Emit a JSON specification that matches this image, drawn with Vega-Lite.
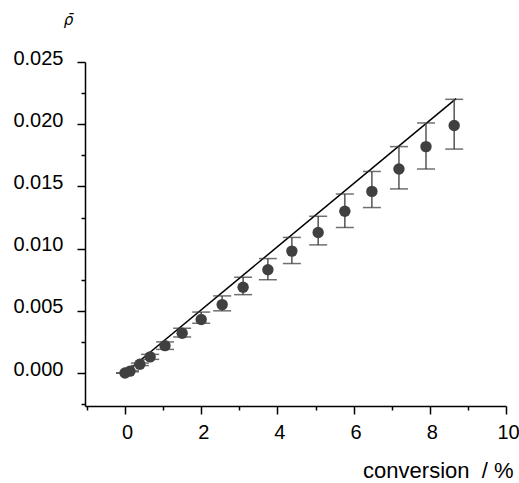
{
  "$schema": "https://vega.github.io/schema/vega-lite/v6.json",
  "width": 421,
  "height": 344,
  "autosize": {"type": "none"},
  "padding": {"left": 85, "top": 62, "right": 13, "bottom": 77},
  "background": "white",
  "config": {
    "view": {"stroke": null},
    "font": "Liberation Sans",
    "axis": {
      "domainColor": "black",
      "domainWidth": 1.5,
      "tickColor": "black",
      "tickWidth": 1.5,
      "labelFont": "Liberation Sans",
      "labelFontSize": 20,
      "labelColor": "black",
      "grid": false,
      "labelOverlap": false,
      "labelBound": false,
      "labelFlush": false,
      "titleColor": "black",
      "titleFontWeight": "normal"
    }
  },
  "resolve": {"axis": {"x": "independent", "y": "independent"}},
  "datasets": {
    "pts": [
      {"conv": 0.0, "rho": 0.0, "lo": 0.0, "hi": 0.0},
      {"conv": 0.13, "rho": 0.00015, "lo": 0.0001, "hi": 0.0002},
      {"conv": 0.39, "rho": 0.0007, "lo": 0.0006, "hi": 0.0008},
      {"conv": 0.66, "rho": 0.0013, "lo": 0.0011, "hi": 0.0015},
      {"conv": 1.05, "rho": 0.0022, "lo": 0.0019, "hi": 0.0025},
      {"conv": 1.5, "rho": 0.0032, "lo": 0.0029, "hi": 0.0036},
      {"conv": 2.0, "rho": 0.0043, "lo": 0.004, "hi": 0.0049},
      {"conv": 2.55, "rho": 0.0055, "lo": 0.005, "hi": 0.0062},
      {"conv": 3.1, "rho": 0.0069, "lo": 0.0063, "hi": 0.0077},
      {"conv": 3.75, "rho": 0.0083, "lo": 0.0075, "hi": 0.0092},
      {"conv": 4.38, "rho": 0.0098, "lo": 0.0088, "hi": 0.0109},
      {"conv": 5.07, "rho": 0.0113, "lo": 0.0103, "hi": 0.0126},
      {"conv": 5.77, "rho": 0.013, "lo": 0.0117, "hi": 0.0144},
      {"conv": 6.48, "rho": 0.0146, "lo": 0.0133, "hi": 0.0162},
      {"conv": 7.19, "rho": 0.0164, "lo": 0.0148, "hi": 0.0182},
      {"conv": 7.9, "rho": 0.0182, "lo": 0.0164, "hi": 0.0201},
      {"conv": 8.64, "rho": 0.0199, "lo": 0.018, "hi": 0.022}
    ],
    "fit": [
      {"conv": 0.0, "rho": 0.0},
      {"conv": 8.69, "rho": 0.02205}
    ]
  },
  "layer": [
    {
      "data": {"name": "fit"},
      "mark": {"type": "line", "color": "black", "strokeWidth": 1.5},
      "encoding": {
        "x": {
          "field": "conv",
          "type": "quantitative",
          "scale": {"domain": [-1.05, 10], "nice": false, "zero": false},
          "axis": {
            "orient": "bottom",
            "values": [0, 2, 4, 6, 8, 10],
            "format": "d",
            "tickSize": 8,
            "labelPadding": 8,
            "labelOffset": 2,
            "title": "conversion\u00a0\u00a0/\u00a0%",
            "titleFontSize": 22,
            "titleAnchor": "end",
            "titleAlign": "right",
            "titleBaseline": "alphabetic",
            "titleX": 428,
            "titleY": 71
          }
        },
        "y": {
          "field": "rho",
          "type": "quantitative",
          "scale": {"domain": [-0.00265, 0.025], "nice": false, "zero": false},
          "axis": {
            "orient": "left",
            "values": [0, 0.005, 0.01, 0.015, 0.02, 0.025],
            "format": ".3f",
            "tickSize": 8,
            "labelPadding": 14,
            "labelOffset": -4,
            "title": "ρ̄",
            "titleFont": "DejaVu Sans",
            "titleAngle": 0,
            "titleFontSize": 15,
            "titleFontStyle": "italic",
            "titleAlign": "center",
            "titleBaseline": "alphabetic",
            "titleX": -17,
            "titleY": -38
          }
        }
      }
    },
    {
      "data": {"name": "pts"},
      "mark": {"type": "rule", "color": "#555555", "strokeWidth": 1.5},
      "encoding": {
        "x": {"field": "conv", "type": "quantitative", "axis": null},
        "y": {"field": "lo", "type": "quantitative", "axis": null},
        "y2": {"field": "hi"}
      }
    },
    {
      "data": {"name": "pts"},
      "mark": {"type": "tick", "orient": "horizontal", "color": "#333333", "size": 18, "thickness": 1.5},
      "encoding": {
        "x": {"field": "conv", "type": "quantitative", "axis": null},
        "y": {"field": "lo", "type": "quantitative", "axis": null}
      }
    },
    {
      "data": {"name": "pts"},
      "mark": {"type": "tick", "orient": "horizontal", "color": "#333333", "size": 18, "thickness": 1.5},
      "encoding": {
        "x": {"field": "conv", "type": "quantitative", "axis": null},
        "y": {"field": "hi", "type": "quantitative", "axis": null}
      }
    },
    {
      "data": {"name": "pts"},
      "mark": {"type": "circle", "color": "#404040", "opacity": 1, "size": 130},
      "encoding": {
        "x": {
          "field": "conv",
          "type": "quantitative",
          "axis": {
            "orient": "bottom",
            "values": [-1, 1, 3, 5, 7, 9],
            "labels": false,
            "domain": false,
            "tickSize": 4,
            "title": null
          }
        },
        "y": {
          "field": "rho",
          "type": "quantitative",
          "axis": {
            "orient": "left",
            "values": [-0.0025, 0.0025, 0.0075, 0.0125, 0.0175, 0.0225],
            "labels": false,
            "domain": false,
            "tickSize": 4,
            "title": null
          }
        }
      }
    }
  ]
}
